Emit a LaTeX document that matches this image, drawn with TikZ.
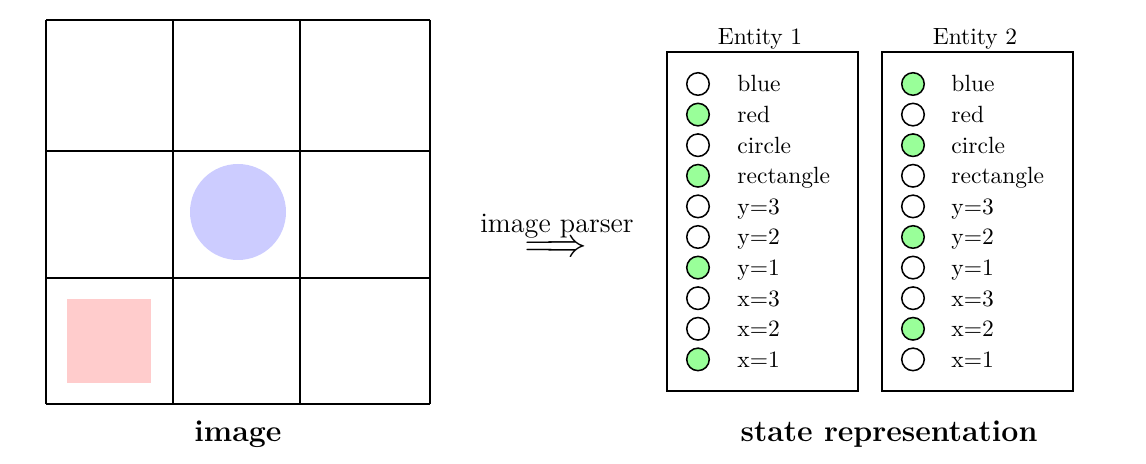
\documentclass[tikz,border=0pt]{standalone}
\usepackage{amsmath}
\definecolor{cellgreen}{RGB}{153,255,153}
\definecolor{shapeblue}{RGB}{204,204,255}
\definecolor{shapered}{RGB}{255,204,204}
\begin{document}
\begin{tikzpicture}[x=0.426pt,y=-0.426pt,
  gridline/.style={line width=0.85pt},
  ebox/.style={draw,line width=0.85pt},
  bit/.style={circle,draw,line width=0.65pt,minimum size=9.6pt,inner sep=0pt},
  on/.style={bit,fill=cellgreen},
  off/.style={bit,fill=white},
  lab/.style={anchor=base west,inner sep=0pt,font=\normalsize},
  ttl/.style={font=\normalsize,inner sep=0pt,anchor=base},
  biglab/.style={font=\fontsize{12.9}{15}\selectfont\bfseries,anchor=base,inner sep=0pt}]
\useasboundingbox (0,0) rectangle (1146,464);
% grid
\fill[shapered] (67,299) rectangle (151,383);
\fill[shapeblue] (238,212) circle[radius=48];
\foreach \x in {46,173,300,430} \draw[gridline] (\x,20) -- (\x,404);
\foreach \y in {20,151,278,404} \draw[gridline] (46,\y) -- (430,\y);
\node[biglab] (imglab) at (238,442) {image};
% parser
\node[anchor=base,inner sep=0pt,font=\large] (parser) at (557,233) {image parser};
\node[inner sep=0pt,font=\fontsize{16.5}{18}\selectfont] (arrow) at (556,249) {$\Longrightarrow$};
% entity boxes
\draw[ebox] (667,52) rectangle (858,391);
\draw[ebox] (882,52) rectangle (1073,391);
\node[ttl] (t1) at (760,45) {Entity 1};
\node[ttl] (t2) at (975,45) {Entity 2};
\foreach \n/\lbl/\a/\b [count=\i from 0] in {blue/blue/off/on, red/red/on/off, circ/circle/off/on, rect/rectangle/on/off, ythree/y=3/off/off, ytwo/y=2/off/on, yone/y=1/on/off, xthree/x=3/off/off, xtwo/x=2/off/on, xone/x=1/on/off}{
  \pgfmathsetmacro{\yy}{84+30.6*\i}
  \node[\a] (a\n) at (698,\yy) {};
  \node[lab] (la\n) at (737,\yy+8) {\lbl};
  \node[\b] (b\n) at (913,\yy) {};
  \node[lab] (lb\n) at (951,\yy+8) {\lbl};
}
\node[biglab] (srlab) at (889,442) {state representation};
\end{tikzpicture}
\end{document}
